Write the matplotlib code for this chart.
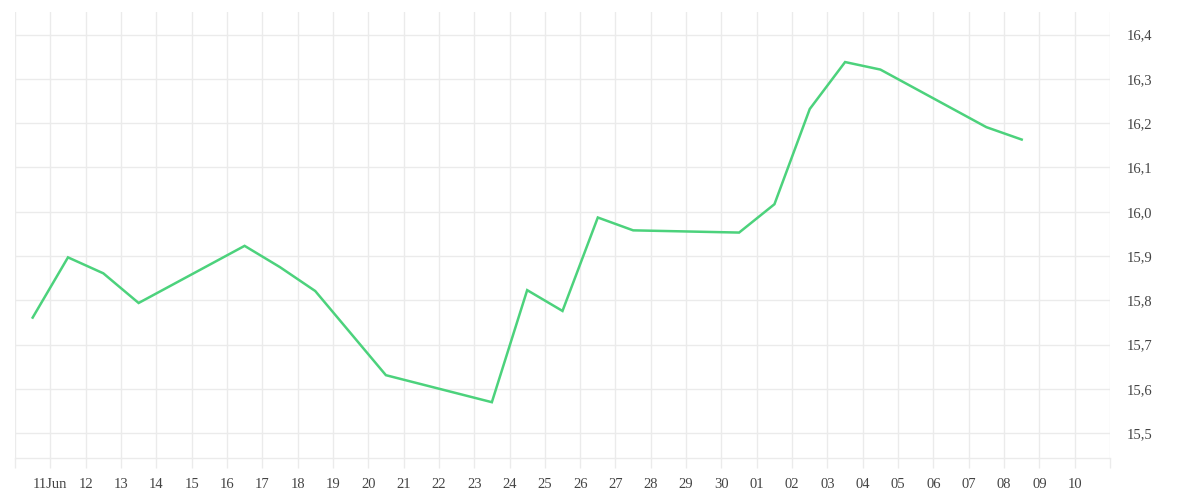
import datetime as dt
import matplotlib
matplotlib.use("Agg")
import matplotlib.pyplot as plt
import matplotlib.dates as mdates
from matplotlib.ticker import FuncFormatter

dates = ["2025-06-10", "2025-06-11", "2025-06-12", "2025-06-13", "2025-06-16",
         "2025-06-17", "2025-06-18", "2025-06-20", "2025-06-23", "2025-06-24",
         "2025-06-25", "2025-06-26", "2025-06-27", "2025-06-30", "2025-07-01",
         "2025-07-02", "2025-07-03", "2025-07-04", "2025-07-07", "2025-07-08"]
values = [15.761, 15.897, 15.861, 15.794, 15.923,
          15.875, 15.821, 15.631, 15.570, 15.823,
          15.776, 15.987, 15.958, 15.953, 16.017,
          16.232, 16.338, 16.321, 16.191, 16.163]
y_ticks = [15.5, 15.6, 15.7, 15.8, 15.9, 16.0, 16.1, 16.2, 16.3, 16.4]

GRID = "#ebebeb"
LINE = "#4cd27c"
TEXT = "#444444"

plt.rcParams["font.family"] = ["Liberation Serif", "DejaVu Serif"]

# points sit at the middle of each day
x = [dt.datetime.strptime(d, "%Y-%m-%d") + dt.timedelta(hours=12) for d in dates]
start = dt.datetime(2025, 6, 10)
end = dt.datetime(2025, 7, 11)

fig = plt.figure(figsize=(12, 5), dpi=100)
ax = fig.add_axes([0.0125, 0.084, 0.9125, 0.892])

ax.plot(x, values, color=LINE, linewidth=1.8, solid_joinstyle="miter")

ax.set_xlim(start, end)
ax.set_ylim(15.444, 16.451)

days = [start + dt.timedelta(days=i) for i in range((end - start).days + 1)]
ax.set_xticks(days)


def day_label(v, pos):
    d = mdates.num2date(v).replace(tzinfo=None)
    if d == start or d == end:
        return ""
    if d.month == 6 and d.day == 11:
        return "11Jun"
    return d.strftime("%d") if d.month == 7 else str(d.day)


ax.xaxis.set_major_formatter(FuncFormatter(day_label))
ax.set_yticks(y_ticks)
ax.yaxis.set_major_formatter(FuncFormatter(lambda v, p: f"{v:.1f}".replace(".", ",")))
ax.yaxis.tick_right()

ax.grid(True, color=GRID, linewidth=1)
ax.set_axisbelow(True)
for side in ["top", "left", "right"]:
    ax.spines[side].set_visible(False)
ax.spines["bottom"].set_color(GRID)
ax.spines["bottom"].set_linewidth(1)

ax.tick_params(axis="x", length=7.2, width=1, color=GRID, pad=7.5, labelsize=10.5, labelcolor=TEXT)
ax.tick_params(axis="y", length=0, pad=12, labelsize=10.5, labelcolor=TEXT)

fig.savefig("out.png", dpi=100)
